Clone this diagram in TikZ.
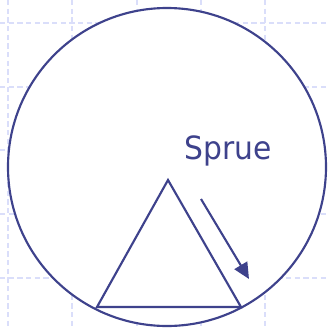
\documentclass[tikz,border=0pt]{standalone}
\usepackage{fontspec}
\setmainfont{DejaVu Sans}
\usetikzlibrary{arrows.meta}

\definecolor{inkblue}{RGB}{62,66,140}
\definecolor{gridlav}{RGB}{218,222,250}

\begin{document}
\begin{tikzpicture}[x=0.75pt,y=0.75pt,yscale=-1,xscale=1]
\useasboundingbox (0,0) rectangle (329,329);

%Grid: dashed background lines
\foreach \gx in {8,72,137,201,265}
  \draw [gridlav, line width=0.8pt, dash pattern={on 4pt off 2.5pt}] (\gx,0) -- (\gx,329);
\foreach \gy in {23,87,150,214,278}
  \draw [gridlav, line width=0.8pt, dash pattern={on 4pt off 2.5pt}] (0,\gy) -- (329,\gy);

%Shape: Circle [id:mould]
\draw [inkblue, line width=1.6pt, fill=white] (167,167) circle [radius=159];
%Shape: Triangle [id:cone]
\draw [inkblue, line width=1.6pt, line join=miter] (168,180) -- (241,307) -- (97,307) -- cycle;

%Straight Lines [id:flow]
\coordinate (flowStart) at (201,199);
\coordinate (flowEnd) at (249,279);
\draw [inkblue, line width=1.6pt, -{Triangle[length=12pt,width=11pt]}] (flowStart) -- (flowEnd);

% Text Node
\node (sprueLabel) [anchor=center, inner sep=0.75pt, text=inkblue, xscale=0.93, font=\fontsize{24}{28}\selectfont] at (228,151) {Sprue};

\end{tikzpicture}
\end{document}
